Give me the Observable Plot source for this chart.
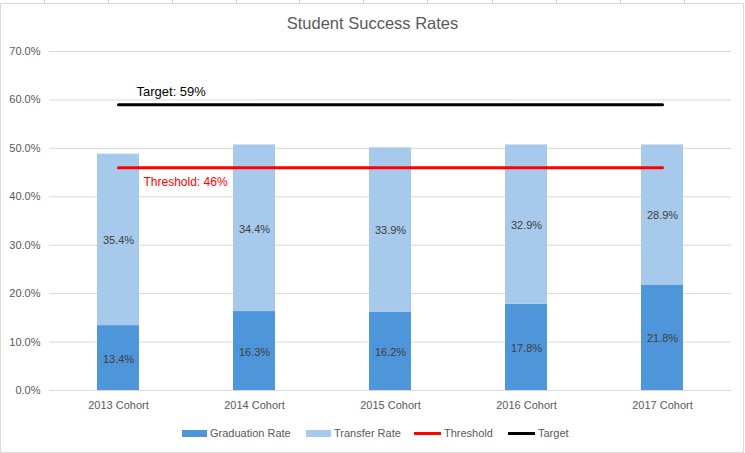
<!DOCTYPE html>
<html><head><meta charset="utf-8">
<script src="https://cdn.jsdelivr.net/npm/d3@7"></script>
<script src="https://cdn.jsdelivr.net/npm/@observablehq/plot@0.6"></script>
<style>
body{margin:0;background:#fff;}
#wrap{position:relative;width:745px;height:453px;overflow:hidden;font-family:"Liberation Sans",sans-serif;}
#frame{position:absolute;left:0;top:3px;width:742px;height:448px;border:1px solid #d9d9d9;}
.vl{position:absolute;top:0;width:1px;height:3px;background:#d0d0d0;}
#title{position:absolute;left:0;width:745px;top:14px;text-align:center;font-size:16.5px;color:#595959;}
#chart{position:absolute;left:0;top:0;}
#legend{position:absolute;top:427px;left:0;width:745px;font-size:11px;color:#595959;}
.li{position:absolute;display:flex;align-items:center;}
.sw{display:inline-block;margin-right:3px;}
</style></head>
<body>
<div id="wrap">
<div id="frame"></div>
<div id="title">Student Success Rates</div>
<div id="chart"></div>
<div id="legend"></div>
</div>
<script>
const cohorts = ["2013 Cohort","2014 Cohort","2015 Cohort","2016 Cohort","2017 Cohort"];
const graduationRate = [13.4, 16.3, 16.2, 17.8, 21.8];
const transferRate = [35.4, 34.4, 33.9, 32.9, 28.9];
const thresholdValue = 46;
const targetValue = 59;
const yTicks = [0, 10, 20, 30, 40, 50, 60, 70];
const seriesNames = ["Graduation Rate", "Transfer Rate", "Threshold", "Target"];
const colors = {"Graduation Rate": "#4e95d9", "Transfer Rate": "#a6c9ec", "Threshold": "#ff0000", "Target": "#000000"};

const wrap = document.getElementById("wrap");
[44,108,172,236,299,363,427,492,556,620,684].forEach(x => {
  const d = document.createElement("div"); d.className = "vl"; d.style.left = x + "px"; wrap.appendChild(d);
});

const rows = [];
cohorts.forEach((c, i) => {
  rows.push({cohort: c, series: "Graduation Rate", value: graduationRate[i], base: 0});
  rows.push({cohort: c, series: "Transfer Rate", value: transferRate[i], base: graduationRate[i]});
});

const labelFont = "'Liberation Sans',sans-serif";
const plot = Plot.plot({
  width: 745, height: 415,
  marginLeft: 49, marginRight: 14, marginTop: 51, marginBottom: 25,
  style: {fontFamily: labelFont, fontSize: "11px", color: "#595959", background: "transparent"},
  x: {domain: cohorts, paddingInner: 0.69, paddingOuter: 0.345, label: null},
  y: {domain: [0, 70], ticks: yTicks, label: null},
  marks: [
    Plot.gridY(yTicks, {stroke: "#d9d9d9", strokeOpacity: 1}),
    Plot.axisY(yTicks, {tickFormat: d => d.toFixed(1) + "%", tickSize: 0, tickPadding: 9, fill: "#595959", fontSize: 11}),
    Plot.axisX({tickSize: 0, tickPadding: 11, fill: "#595959", fontSize: 11}),
    Plot.barY(rows, {x: "cohort", y1: "base", y2: d => d.base + d.value, fill: d => colors[d.series]}),
    Plot.text(rows, {x: "cohort", y: d => d.base + d.value / 2, text: d => d.value.toFixed(1) + "%", fill: "#404040", fontSize: 11, dy: 1}),
    Plot.lineY(cohorts, {x: d => d, y: () => thresholdValue, stroke: colors["Threshold"], strokeWidth: 3}),
    Plot.lineY(cohorts, {x: d => d, y: () => targetValue, stroke: colors["Target"], strokeWidth: 3}),
    Plot.text([cohorts[0]], {x: d => d, y: () => targetValue, text: () => "Target: " + targetValue + "%", dx: 18, dy: -13, textAnchor: "start", fill: "#000", fontSize: 13}),
    Plot.text([cohorts[0]], {x: d => d, y: () => thresholdValue, text: () => "Threshold: " + thresholdValue + "%", dx: 25, dy: 14, textAnchor: "start", fill: "#ff0000", fontSize: 12})
  ]
});
document.getElementById("chart").appendChild(plot);

const legend = document.getElementById("legend");
const legendX = [182, 306, 414, 508];
seriesNames.forEach((s, i) => {
  const item = document.createElement("div"); item.className = "li"; item.style.left = legendX[i] + "px";
  const sw = document.createElement("span"); sw.className = "sw";
  const isLine = i >= 2;
  sw.style.width = (isLine ? 27 : 25) + "px";
  sw.style.height = (isLine ? 3 : 7) + "px";
  sw.style.background = colors[s];
  item.appendChild(sw);
  const t = document.createElement("span"); t.textContent = s; item.appendChild(t);
  legend.appendChild(item);
});
</script>
</body></html>
